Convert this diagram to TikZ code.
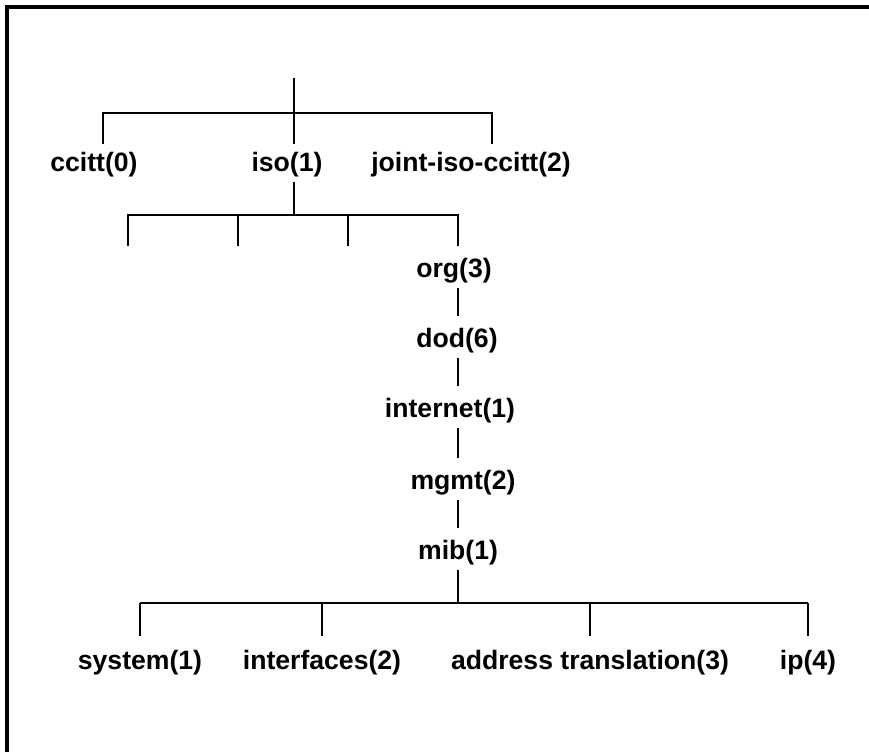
\documentclass[tikz,border=0pt]{standalone}
\usepackage{fontspec}
\setmainfont{Liberation Sans}

\begin{document}
\begin{tikzpicture}[x=0.5pt, y=-0.5pt, line width=1pt,
    lbl/.style={font=\bfseries\fontsize{13.3}{16}\selectfont, inner sep=2pt}]
    \useasboundingbox (0,0) rectangle (869,752);

    % Frame, top and left edges only
    \draw[line width=1.6pt] (7,752) -- (7,7) -- (869,7);

    % Top level
    \coordinate (root) at (294,78);
    \node[lbl] (ccitt) at (94,165) {ccitt(0)};
    \node[lbl] (iso) at (287,165) {iso(1)};
    \node[lbl] (joint) at (471,165) {joint-iso-ccitt(2)};
    \coordinate (ccitt-in) at (103,144);
    \coordinate (iso-in) at (294,144);
    \coordinate (joint-in) at (492,144);
    \draw (root) -- (iso-in);
    \draw (ccitt-in) -- ++(0,-31) -| (joint-in);

    % Children of iso
    \coordinate (iso-bar) at (294,215);
    \coordinate (org-in) at (458,246);
    \node[lbl] (org) at (454,271) {org(3)};
    \draw (iso.south -| iso-bar) -- (iso-bar);
    \draw (128,246) -- (128,215) -| (org-in);
    \foreach \x in {238,348}
        \draw (\x,215) -- (\x,246);

    % Chain down to mib
    \node[lbl] (dod) at (457,341) {dod(6)};
    \node[lbl] (internet) at (450,411) {internet(1)};
    \node[lbl] (mgmt) at (463,483) {mgmt(2)};
    \node[lbl] (mib) at (458,553) {mib(1)};
    \foreach \a/\b in {org/dod, dod/internet, internet/mgmt, mgmt/mib}
        \draw[shorten >=4pt] (\a.south -| org-in) -- (\b.north -| org-in);

    % Children of mib
    \coordinate (mib-bar) at (458,603);
    \node[lbl] (system) at (140,663) {system(1)};
    \node[lbl] (interfaces) at (322,663) {interfaces(2)};
    \node[lbl] (addr) at (590,663) {address translation(3)};
    \node[lbl] (ip) at (808,663) {ip(4)};
    \draw (mib.south -| mib-bar) -- (mib-bar);
    \draw (system |- mib-bar) -- (ip |- mib-bar);
    \foreach \n in {system, interfaces, addr, ip}
        \draw (\n |- mib-bar) -- ++(0,33);
\end{tikzpicture}
\end{document}
